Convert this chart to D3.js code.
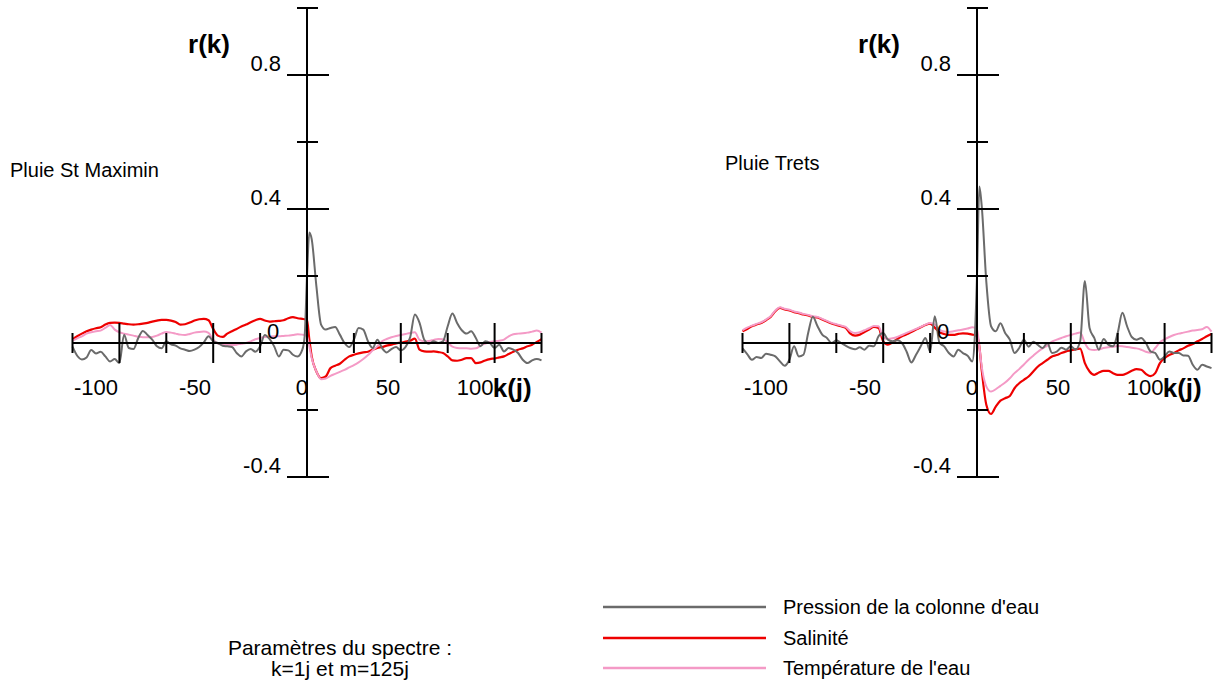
<!DOCTYPE html>
<html>
<head>
<meta charset="utf-8">
<script src="https://cdnjs.cloudflare.com/ajax/libs/d3/7.8.5/d3.min.js"></script>
<style>
  html, body { margin: 0; padding: 0; background: #fff; }
  svg { display: block; font-family: Arial, "Liberation Sans", sans-serif; }
</style>
</head>
<body>
<svg id="chart" width="1216" height="692"></svg>
<script>
// ---------- DATA ----------
// lags k (days): -125..-2.5 step 2.5, extra points around 0, 2.5..125 step 2.5
const lags = [...d3.range(-125, -2.4, 2.5), -1.25, 0, 1.25, ...d3.range(2.5, 125.1, 2.5)];

const seriesNames = ["Pression de la colonne d'eau", "Salinité", "Température de l'eau"];

// Pluie St Maximin
const stMaxPression = [
  -0.011,-0.038,-0.049,-0.043,-0.021,-0.031,-0.026,-0.04,-0.055,-0.048,
  -0.06,0.025,-0.015,-0.018,0.014,0.036,0.024,0.01,-0.01,-0.016,
  0.005,-0.004,-0.008,-0.016,-0.02,-0.024,-0.02,-0.012,0.002,0.02,
  0.005,0,-0.008,-0.01,-0.012,-0.03,-0.04,-0.025,-0.018,-0.026,
  -0.01,0.024,0.012,-0.01,-0.04,-0.02,-0.022,-0.035,-0.04,-0.02,
  0.02,0.2,0.33,
  0.31,0.17,0.055,0.04,0.045,0.048,0.025,0,-0.012,0.01,
  0.045,0.04,0.005,-0.015,0.01,-0.015,-0.028,-0.018,-0.012,-0.022,
  -0.012,0.017,0.085,0.06,0.01,-0.002,0.005,0,0.005,0.05,
  0.088,0.06,0.038,0.028,0.035,0.015,-0.01,0.005,0,-0.015,
  -0.005,-0.025,-0.015,-0.02,-0.03,-0.05,-0.06,-0.052,-0.048,-0.052
];
const stMaxSalinite = [
  0.011,0.02,0.028,0.035,0.04,0.044,0.047,0.055,0.06,0.061,
  0.06,0.058,0.056,0.055,0.056,0.058,0.06,0.064,0.067,0.069,
  0.069,0.067,0.063,0.055,0.056,0.061,0.067,0.071,0.072,0.068,
  0.042,0.022,0.018,0.028,0.035,0.042,0.049,0.055,0.062,0.068,
  0.072,0.067,0.064,0.065,0.066,0.068,0.074,0.077,0.074,0.072,
  0.071,0.069,0.01,
  -0.04,-0.085,-0.105,-0.1,-0.075,-0.068,-0.062,-0.05,-0.04,-0.035,
  -0.031,-0.028,-0.026,-0.02,-0.015,-0.012,-0.008,-0.005,-0.001,0.001,
  0.004,0.007,0.013,-0.02,-0.025,-0.026,-0.025,-0.027,-0.03,-0.04,
  -0.052,-0.053,-0.05,-0.045,-0.045,-0.06,-0.058,-0.052,-0.048,-0.046,
  -0.043,-0.04,-0.033,-0.026,-0.02,-0.016,-0.01,-0.005,0.003,0.011
];
const stMaxTemperature = [
  0.007,0.014,0.02,0.028,0.032,0.035,0.037,0.045,0.054,0.04,
  0.032,0.028,0.025,0.022,0.019,0.017,0.017,0.018,0.022,0.028,
  0.033,0.031,0.028,0.025,0.024,0.027,0.031,0.033,0.034,0.03,
  0.01,-0.002,-0.005,-0.006,-0.006,-0.005,-0.002,0,0.005,0.011,
  0.015,0.018,0.019,0.02,0.02,0.021,0.022,0.024,0.026,0.025,
  0.024,0.02,-0.01,
  -0.045,-0.085,-0.108,-0.106,-0.098,-0.092,-0.086,-0.08,-0.073,-0.066,
  -0.058,-0.048,-0.036,-0.022,-0.01,0.005,0.012,0.017,0.021,0.024,
  0.027,0.03,0.032,0.009,0.005,0.006,0.009,0.012,0.011,0.002,
  -0.011,-0.015,-0.016,-0.016,-0.017,-0.016,-0.008,-0.002,0.003,0.005,
  0.007,0.01,0.02,0.026,0.028,0.029,0.031,0.034,0.037,0.031
];

// Pluie Trets
const tretsPression = [
  -0.016,-0.033,-0.05,-0.042,-0.045,-0.032,-0.035,-0.04,-0.055,-0.068,
  -0.05,-0.01,-0.04,-0.035,0.03,0.078,0.05,0.025,0.015,0,
  0.008,0,-0.008,-0.015,-0.019,-0.013,-0.02,-0.008,-0.01,0.02,
  0.03,0.01,0.005,0.008,0,-0.026,-0.058,-0.035,-0.01,0.015,
  -0.025,0.08,0,-0.01,-0.03,-0.04,-0.02,-0.03,-0.038,-0.055,
  0.01,0.2,0.467,
  0.41,0.18,0.05,0.035,0.059,0.03,0.01,-0.03,-0.015,0.01,
  -0.011,0.004,-0.006,-0.015,0,-0.03,-0.026,-0.014,-0.02,-0.01,
  -0.02,0.005,0.185,0.045,0.015,-0.02,0.012,-0.005,-0.01,0.03,
  0.09,0.05,0.018,0.01,0.015,0,-0.025,-0.03,-0.05,-0.04,
  -0.025,-0.03,-0.03,-0.037,-0.038,-0.065,-0.08,-0.065,-0.07,-0.075
];
const tretsSalinite = [
  0.035,0.042,0.05,0.055,0.06,0.068,0.078,0.095,0.105,0.1,
  0.097,0.092,0.089,0.085,0.082,0.078,0.076,0.07,0.064,0.058,
  0.054,0.05,0.045,0.028,0.022,0.025,0.033,0.04,0.048,0.045,
  0.005,-0.005,0.002,0.012,0.02,0.026,0.033,0.04,0.047,0.054,
  0.058,0.046,0.032,0.027,0.024,0.024,0.027,0.029,0.028,0.025,
  0.024,0.02,-0.01,
  -0.08,-0.185,-0.212,-0.19,-0.172,-0.165,-0.158,-0.135,-0.12,-0.11,
  -0.1,-0.085,-0.07,-0.06,-0.05,-0.04,-0.036,-0.03,-0.025,-0.022,
  -0.019,-0.017,-0.06,-0.085,-0.095,-0.088,-0.083,-0.083,-0.09,-0.095,
  -0.095,-0.09,-0.083,-0.078,-0.08,-0.092,-0.099,-0.09,-0.06,-0.045,
  -0.036,-0.03,-0.022,-0.016,-0.008,-0.003,0.005,0.012,0.02,0.027
];
const tretsTemperature = [
  0.038,0.046,0.052,0.057,0.062,0.07,0.08,0.097,0.107,0.102,
  0.099,0.094,0.091,0.087,0.084,0.08,0.078,0.072,0.066,0.06,
  0.056,0.052,0.048,0.035,0.03,0.032,0.038,0.044,0.051,0.05,
  0.018,0.012,0.014,0.018,0.024,0.03,0.036,0.042,0.048,0.055,
  0.06,0.055,0.04,0.034,0.033,0.035,0.038,0.04,0.043,0.047,
  0.046,0.04,-0.01,
  -0.07,-0.13,-0.145,-0.138,-0.128,-0.118,-0.105,-0.09,-0.078,-0.064,
  -0.05,-0.038,-0.026,-0.016,-0.008,0.004,0.01,0.015,0.02,0.024,
  0.028,0.031,0,-0.019,-0.021,-0.019,-0.015,-0.013,-0.011,-0.009,
  -0.01,-0.012,-0.014,-0.016,-0.02,-0.026,-0.029,-0.015,0.002,0.011,
  0.018,0.024,0.028,0.031,0.034,0.037,0.039,0.041,0.048,0.034
];

const panelTitles = ["Pluie St Maximin", "Pluie Trets"];

// axis ticks
const xTicks = [-125, -100, -75, -50, -25, 25, 50, 75, 100, 125];
const xMajorTicks = [-100, -50, 50, 100];
const xTickLabels = ["-100", "-50", "0", "50", "100"];
const xTickLabelAt = [-112.5, -59.7, -2.7, 43.2, 89.6]; // where the labels sit (as printed in the original)
const yTicks = [1.0, 0.8, 0.6, 0.4, 0.2, -0.2, -0.4];
const yMajorTicks = [0.8, 0.4, -0.4];
const yTickLabels = ["0.8", "0.4", "-0.4"];

// ---------- STYLE ----------
const colors = ["#6b6b6b", "#ee0000", "#f49ac6"];
const widths = [2, 2.2, 2];

const svg = d3.select("#chart");

function drawPanel(x0, title, titleX, titleY, series) {
  const x = d3.scaleLinear().domain([-125, 125]).range([x0, x0 + 469]);
  const y = d3.scaleLinear().domain([-0.4, 1.0]).range([477, 8]);
  const g = svg.append("g");
  const ax = x(0), ay = y(0);

  // series lines (salinity, temperature, then pressure)
  const line = d3.line().x(d => x(d[0])).y(d => y(d[1])).curve(d3.curveMonotoneX);
  [1, 2, 0].forEach(i => {
    g.append("path")
      .datum(lags.map((k, j) => [k, series[i][j]]))
      .attr("d", line)
      .attr("fill", "none")
      .attr("stroke", colors[i])
      .attr("stroke-width", widths[i])
      .attr("stroke-linejoin", "round");
  });

  // x axis
  g.append("line").attr("x1", x(-125)).attr("x2", x(125)).attr("y1", ay).attr("y2", ay)
    .attr("stroke", "#000").attr("stroke-width", 2);
  g.selectAll(".xt").data(xTicks).enter().append("line")
    .attr("x1", d => x(d)).attr("x2", d => x(d))
    .attr("y1", d => xMajorTicks.includes(d) ? ay - 20 : ay - 10)
    .attr("y2", d => xMajorTicks.includes(d) ? ay + 20 : ay + 10)
    .attr("stroke", "#000").attr("stroke-width", 2);
  g.selectAll(".xl").data(xTickLabels).enter().append("text")
    .attr("x", (d, i) => x(xTickLabelAt[i])).attr("y", ay + 52)
    .attr("text-anchor", "middle").attr("font-size", 22).text(d => d);

  // y axis
  g.append("line").attr("x1", ax).attr("x2", ax).attr("y1", y(1.0)).attr("y2", y(-0.4))
    .attr("stroke", "#000").attr("stroke-width", 2);
  g.selectAll(".yt").data(yTicks).enter().append("line")
    .attr("x1", d => yMajorTicks.includes(d) ? ax - 20 : ax - 10)
    .attr("x2", d => yMajorTicks.includes(d) ? ax + 22 : ax + 11)
    .attr("y1", d => y(d)).attr("y2", d => y(d))
    .attr("stroke", "#000").attr("stroke-width", 2);
  g.selectAll(".yl").data(yTickLabels).enter().append("text")
    .attr("x", ax - 26).attr("y", (d, i) => y(yMajorTicks[i]) - 4)
    .attr("text-anchor", "end").attr("font-size", 22).text(d => d);
  // stray "0" label near the origin
  g.append("text").attr("x", ax - 34).attr("y", ay - 4)
    .attr("text-anchor", "middle").attr("font-size", 22).text("0");

  // axis titles
  g.append("text").attr("x", ax - 77).attr("y", 53).attr("text-anchor", "end")
    .attr("font-size", 26).attr("font-weight", "bold").text("r(k)");
  g.append("text").attr("x", x(99)).attr("y", ay + 54).attr("text-anchor", "start")
    .attr("font-size", 26).attr("font-weight", "bold").text("k(j)");

  // panel title
  g.append("text").attr("x", titleX).attr("y", titleY).attr("font-size", 20).text(title);
}

drawPanel(72.5, panelTitles[0], 10, 177, [stMaxPression, stMaxSalinite, stMaxTemperature]);
drawPanel(742.5, panelTitles[1], 725, 170, [tretsPression, tretsSalinite, tretsTemperature]);

// legend
const legY = [607, 638, 668];
const leg = svg.append("g");
seriesNames.forEach((name, i) => {
  leg.append("line").attr("x1", 603).attr("x2", 766).attr("y1", legY[i]).attr("y2", legY[i])
    .attr("stroke", colors[i]).attr("stroke-width", widths[i] + 0.5);
  leg.append("text").attr("x", 783).attr("y", legY[i] + 7).attr("font-size", 20).text(name);
});

// spectrum parameters
const paramLines = ["Paramètres du spectre :", "k=1j et m=125j"];
svg.selectAll(".param").data(paramLines).enter().append("text")
  .attr("x", 340).attr("y", (d, i) => 655 + i * 21)
  .attr("text-anchor", "middle").attr("font-size", 21).text(d => d);
</script>
</body>
</html>
